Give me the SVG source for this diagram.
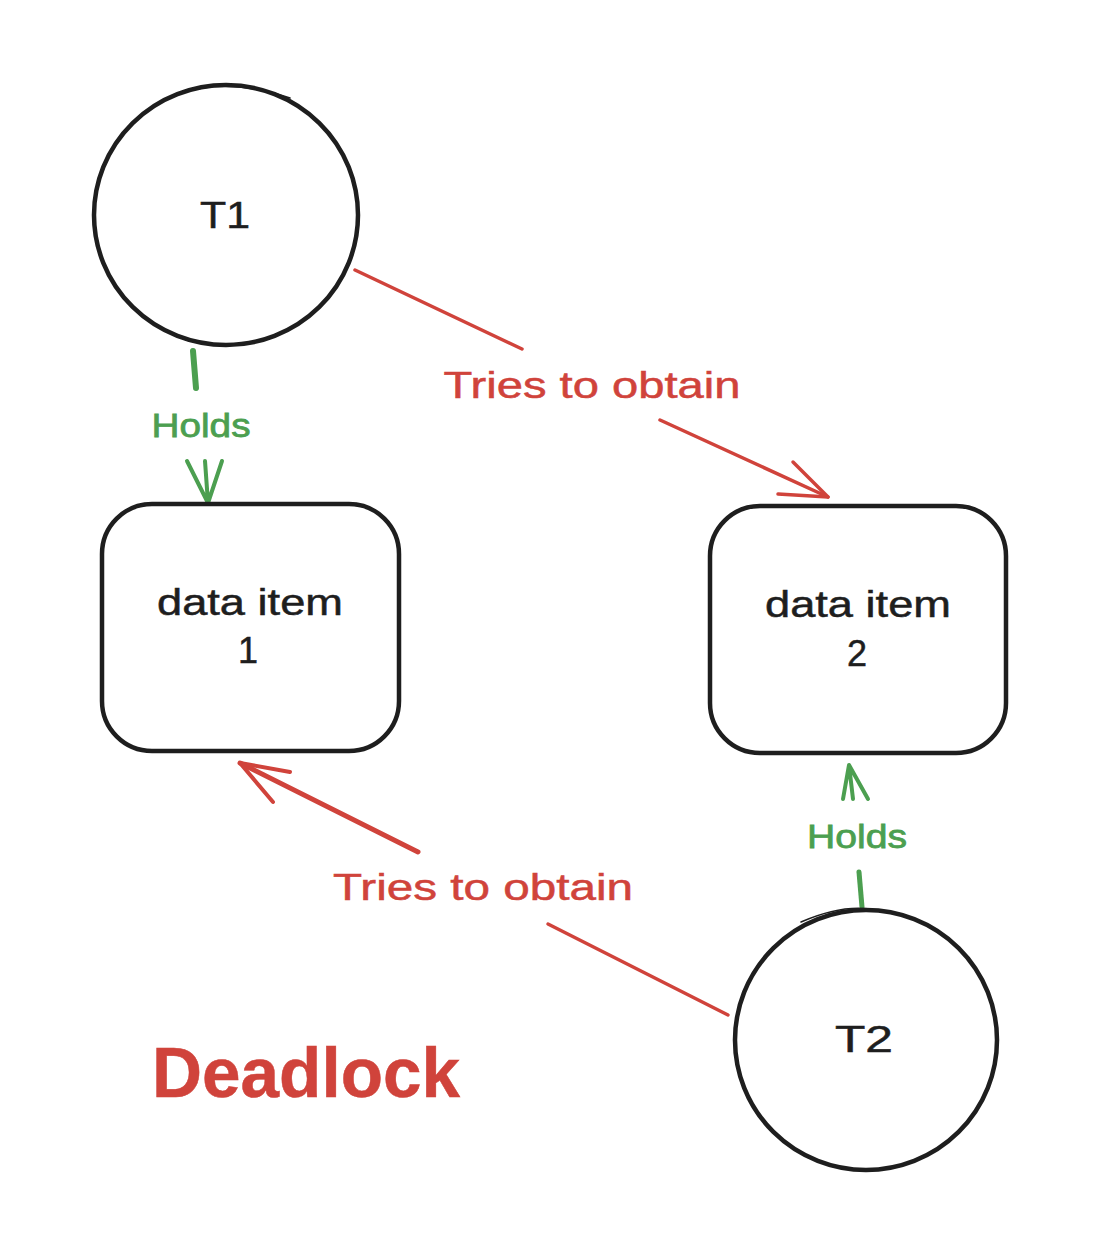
<svg xmlns="http://www.w3.org/2000/svg" width="1112" height="1244" viewBox="0 0 1112 1244">
<style>
.node{fill:none;stroke:#1e1e1e;stroke-width:4.5;stroke-linecap:round;stroke-linejoin:round}
.sk{fill:none;stroke:#1e1e1e;stroke-width:1.6;stroke-linecap:round}
.lbl{font-family:"Liberation Sans",Arial,sans-serif;fill:#1e1e1e;text-anchor:middle;stroke:#1e1e1e;stroke-width:0.5}
.red{fill:none;stroke:#d0433b;stroke-width:3.5;stroke-linecap:round;stroke-linejoin:round}
.grn{fill:none;stroke:#4c9f50;stroke-width:5;stroke-linecap:round;stroke-linejoin:round}
.rt{font-family:"Liberation Sans",Arial,sans-serif;fill:#d0433b;text-anchor:middle;stroke:#d0433b;stroke-width:0.5}
.gt{font-family:"Liberation Sans",Arial,sans-serif;fill:#4c9f50;text-anchor:middle;stroke:#4c9f50;stroke-width:0.8}
</style>
<rect width="1112" height="1244" fill="#ffffff"/>
<g id="connectors">
  <g id="t1-tries-di2">
    <path class="red" d="M355 270 L522 349"/>
    <path class="red" d="M660 420 L828 497"/>
    <path class="red" d="M793 462 L828 497 L778 494"/>
  </g>
  <g id="t2-tries-di1">
    <path class="red" d="M728 1015 L548 924"/>
    <path class="red" d="M418 852 L240 763" style="stroke-width:5"/>
    <path class="red" d="M290 772 L240 763 L273 802" style="stroke-width:4"/>
  </g>
  <g id="t1-holds-di1">
    <path class="grn" d="M193 351 L196 388" style="stroke-width:6"/>
    <path class="grn" d="M187 461 L208 503 L222 461 M205 461 L208 503" style="stroke-width:4"/>
  </g>
  <g id="t2-holds-di2">
    <path class="grn" d="M862 907 L859 872"/>
    <path class="grn" d="M843 799 L849 765 L868 799 M853 799 L849 765" style="stroke-width:4"/>
  </g>
  <text class="rt" x="592" y="398" font-size="36" textLength="297" lengthAdjust="spacingAndGlyphs">Tries to obtain</text>
  <text class="rt" x="483" y="900" font-size="36" textLength="300" lengthAdjust="spacingAndGlyphs">Tries to obtain</text>
  <text class="gt" x="201" y="437" font-size="34" textLength="99" lengthAdjust="spacingAndGlyphs">Holds</text>
  <text class="gt" x="857" y="848" font-size="34" textLength="100" lengthAdjust="spacingAndGlyphs">Holds</text>
</g>
<g id="T1">
  <ellipse class="node" cx="226" cy="215" rx="132" ry="130"/>
  <path class="sk" d="M185 92 Q230 78 290 98"/>
  <text class="lbl" x="225" y="228" font-size="36" textLength="50" lengthAdjust="spacingAndGlyphs">T1</text>
</g>
<g id="T2">
  <ellipse class="node" cx="866" cy="1040" rx="131" ry="130"/>
  <path class="sk" d="M801 922 Q840 905 870 909"/>
  <text class="lbl" x="864" y="1052" font-size="36" textLength="58" lengthAdjust="spacingAndGlyphs">T2</text>
</g>
<g id="data-item-1">
  <rect class="node" x="102" y="504" width="297" height="247" rx="50" ry="50"/>
  <text class="lbl" x="250" y="615" font-size="36" textLength="186" lengthAdjust="spacingAndGlyphs">data item</text>
  <text class="lbl" x="248" y="663" font-size="36">1</text>
</g>
<g id="data-item-2">
  <rect class="node" x="710" y="506" width="296" height="247" rx="50" ry="50"/>
  <text class="lbl" x="858" y="617" font-size="36" textLength="186" lengthAdjust="spacingAndGlyphs">data item</text>
  <text class="lbl" x="857" y="666" font-size="36">2</text>
</g>
<g id="title">
  <text class="rt" x="306" y="1097" font-size="70" font-weight="bold" textLength="308" lengthAdjust="spacingAndGlyphs">Deadlock</text>
</g>
</svg>
